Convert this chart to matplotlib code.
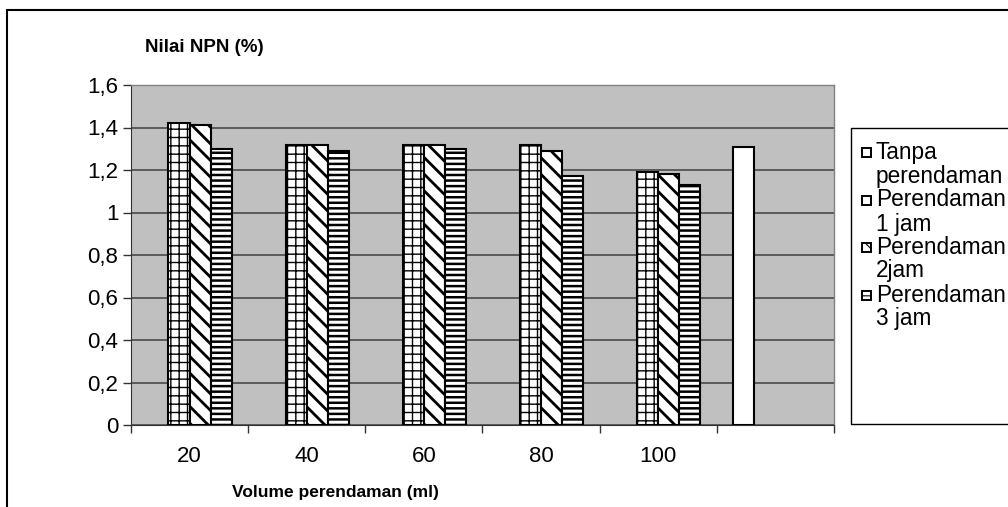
import numpy as np
import matplotlib.pyplot as plt
from matplotlib.patches import Rectangle

plt.rcParams['font.family'] = ['Liberation Sans', 'DejaVu Sans']

# data
categories = ['20', '40', '60', '80', '100', '']
tanpa = [np.nan, np.nan, np.nan, np.nan, np.nan, 1.31]
jam1 = [1.42, 1.32, 1.32, 1.32, 1.19, np.nan]
jam2 = [1.41, 1.32, 1.32, 1.29, 1.18, np.nan]
jam3 = [1.30, 1.29, 1.30, 1.17, 1.13, np.nan]
labels = ['Tanpa\nperendaman', 'Perendaman\n1 jam', 'Perendaman\n2jam', 'Perendaman\n3 jam']
hatches = ['', '++', '\\\\', '---']
hatch_lw = [1.0, 1.0, 2.0, 1.8]

W, H = 1008, 507
fig = plt.figure(figsize=(W / 100, H / 100), dpi=100)
fig.patch.set_facecolor('white')

def fx(px):
    return px / W

def fy(py):
    return 1 - py / H

# outer chart border (cropped on right and bottom)
fig.add_artist(Rectangle((fx(7), fy(600)), fx(1100), fy(10) - fy(600),
                         transform=fig.transFigure, fill=False,
                         edgecolor='black', linewidth=1.5))

ax = fig.add_axes([fx(131), fy(425), fx(834) - fx(131), fy(85) - fy(425)])
ax.set_facecolor('#c0c0c0')

x = np.arange(len(categories))
bw = 0.18
series = [tanpa, jam1, jam2, jam3]
for i, vals in enumerate(series):
    plt.rcParams['hatch.linewidth'] = hatch_lw[i]
    bars = ax.bar(x + (i - 1.5) * bw, vals, bw, color='white',
                  edgecolor='black', linewidth=1.5, hatch=hatches[i], zorder=3)
    for b in bars:
        if hasattr(b, 'set_hatch_linewidth'):
            b.set_hatch_linewidth(hatch_lw[i])

ax.set_ylim(0, 1.6)
ax.set_xlim(-0.5, len(categories) - 0.5)
yt = np.arange(0, 1.61, 0.2)
ax.set_yticks(yt)
ax.set_yticklabels(['0' if v == 0 else ('1' if abs(v - 1) < 1e-9 else f'{v:.1f}'.replace('.', ','))
                    for v in yt])
ax.yaxis.grid(True, color='#4a4a4a', linewidth=1.2, zorder=0)
ax.set_axisbelow(True)

ax.set_xticks(x)
ax.set_xticklabels(categories)
ax.set_xticks(np.arange(-0.5, len(categories)), minor=True)
ax.tick_params(axis='x', which='major', length=0, pad=15, labelsize=16)
ax.tick_params(axis='x', which='minor', length=6, width=1, color='#333333')
ax.tick_params(axis='y', length=6, width=1, labelsize=16, pad=3, color='#333333')

for s in ['top', 'right']:
    ax.spines[s].set_color('#808080')
    ax.spines[s].set_linewidth(1)
ax.spines['left'].set_color('#333333')
ax.spines['bottom'].set_color('#333333')

fig.text(fx(145), fy(47), 'Nilai NPN (%)', fontsize=13.5, fontweight='bold',
         ha='left', va='center')
fig.text(fx(335), fy(492), 'Volume perendaman (ml)',
         fontsize=12.5, fontweight='bold', ha='center', va='center')

# legend box, running off the right edge like the reference
fig.add_artist(Rectangle((fx(851), fy(424)), fx(400), fy(128) - fy(424),
                         transform=fig.transFigure, fill=False,
                         edgecolor='black', linewidth=1))
first_line = [152, 200, 247, 295]
for i, lab in enumerate(labels):
    yy = first_line[i]
    plt.rcParams['hatch.linewidth'] = 0.8
    fig.add_artist(Rectangle((fx(862), fy(yy + 5)), fx(9), fy(yy - 4) - fy(yy + 5),
                             transform=fig.transFigure, facecolor='white',
                             edgecolor='black', linewidth=1.4,
                             hatch={0: '', 1: '-', 2: '\\\\\\', 3: '--'}[i]))
    l1, l2 = lab.split('\n')
    fig.text(fx(876), fy(yy), l1, fontsize=16.3, ha='left', va='center')
    fig.text(fx(876), fy(yy + 24), l2, fontsize=16.3, ha='left', va='center')

fig.savefig('out.png', dpi=100)
